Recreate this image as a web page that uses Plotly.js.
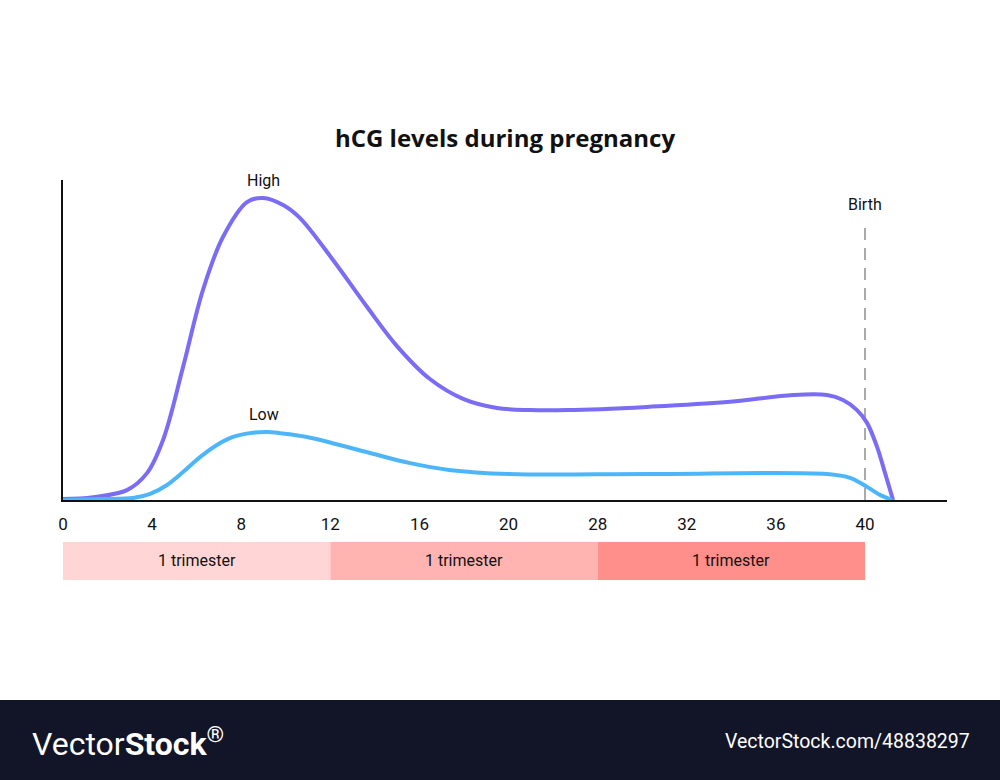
<!DOCTYPE html>
<html>
<head>
<meta charset="utf-8">
<script src="https://cdn.plot.ly/plotly-3.0.1.min.js"></script>
<style>html,body{margin:0;padding:0;background:#fff;}#chart{width:1000px;height:780px;}</style>
</head>
<body>
<div id="chart"></div>
<script>
// Axis tick labels (weeks) — evenly spaced on the axis
const tickWeeks = [0, 4, 8, 12, 16, 20, 28, 32, 36, 40];
const tickLabels = ['0', '4', '8', '12', '16', '20', '28', '32', '36', '40'];

// High hCG curve (week, level)
const highWeeks = [0, 1.35, 2.87, 3.77, 4.49, 5.39, 6.28, 7.18, 8.26, 8.98, 9.88, 10.64, 12.12, 13.65, 14.99, 16.47, 17.96, 19.48, 21.93, 25.34, 30.22, 33.81, 36.77, 38.29, 39.01, 39.64, 40.09, 40.54, 40.90, 41.26];
const highLevels = [0.3, 0.9, 3.1, 8.4, 18.75, 41.6, 65.6, 82.2, 93.1, 94.4, 92.2, 88.1, 75, 60.3, 48.1, 37.8, 31.6, 28.75, 28.1, 28.1, 29.1, 30.6, 32.8, 32.8, 31.25, 28.1, 24.1, 16.6, 8.4, 0];

// Low hCG curve (week, level)
const lowWeeks = [0, 1.66, 3.14, 3.91, 4.67, 5.39, 6.15, 6.91, 7.63, 8.39, 9.16, 9.74, 10.95, 13.78, 15.53, 17.33, 20.05, 30.22, 38.29, 39.33, 40.09, 40.67, 41.21];
const lowLevels = [0, 0.3, 0.6, 1.9, 4.7, 8.75, 13.4, 17.2, 19.7, 20.9, 21.25, 20.9, 19.7, 14.7, 11.6, 9.4, 8.1, 8.1, 8.1, 6.9, 4.1, 1.6, 0];

// Trimester bands (start week, end week, label, colour)
const trimesterStart = [0, 12, 28];
const trimesterEnd = [12, 28, 40];
const trimesterLabels = ['1 trimester', '1 trimester', '1 trimester'];
const trimesterColors = ['#ffd6d5', '#ffb4b1', '#ff8f8b'];

const birthWeek = 40;

// map weeks onto the evenly spaced tick axis
function weekToPos(w) {
  for (let i = 0; i < tickWeeks.length - 1; i++) {
    if (w <= tickWeeks[i + 1]) {
      return i + (w - tickWeeks[i]) / (tickWeeks[i + 1] - tickWeeks[i]);
    }
  }
  const n = tickWeeks.length - 1;
  return n + (w - tickWeeks[n]) / (tickWeeks[n] - tickWeeks[n - 1]);
}

const txtFont = {family: 'Roboto, sans-serif', size: 16, color: '#111'};

const traces = [
  {
    x: highWeeks.map(weekToPos), y: highLevels, mode: 'lines',
    line: {color: '#7a6cf5', width: 4, shape: 'spline', smoothing: 1},
    cliponaxis: false, hoverinfo: 'skip', name: 'High'
  },
  {
    x: lowWeeks.map(weekToPos), y: lowLevels, mode: 'lines',
    line: {color: '#4db6fb', width: 4, shape: 'spline', smoothing: 1},
    cliponaxis: false, hoverinfo: 'skip', name: 'Low'
  }
];

const shapes = [];
const annotations = [];

// birth line
shapes.push({type: 'line', xref: 'x', yref: 'y', x0: weekToPos(birthWeek), x1: weekToPos(birthWeek), y0: 0, y1: 87.5,
  line: {color: '#aaaaaa', width: 2, dash: '12px,8px'}, layer: 'below'});
annotations.push({x: weekToPos(birthWeek), y: 92.5, xref: 'x', yref: 'y', text: 'Birth', showarrow: false, font: txtFont});
annotations.push({x: weekToPos(9), y: 99.7, xref: 'x', yref: 'y', text: 'High', showarrow: false, font: txtFont});
annotations.push({x: weekToPos(9), y: 26.6, xref: 'x', yref: 'y', text: 'Low', showarrow: false, font: txtFont});

// trimester bands
for (let i = 0; i < trimesterStart.length; i++) {
  shapes.push({type: 'rect', xref: 'x', yref: 'paper', x0: weekToPos(trimesterStart[i]), x1: weekToPos(trimesterEnd[i]),
    y0: -0.25, y1: -0.131, fillcolor: trimesterColors[i], line: {width: 0}});
  annotations.push({x: (weekToPos(trimesterStart[i]) + weekToPos(trimesterEnd[i])) / 2, y: -0.19, xref: 'x', yref: 'paper',
    text: trimesterLabels[i], showarrow: false, font: txtFont, yanchor: 'middle'});
}

// footer band
shapes.push({type: 'rect', xref: 'paper', yref: 'paper', x0: -0.08, x1: 1.07, y0: -0.88, y1: -0.625,
  fillcolor: '#121427', line: {width: 0}});

const layout = {
  width: 1000, height: 780,
  margin: {l: 63, r: 53, t: 180, b: 280},
  paper_bgcolor: '#ffffff', plot_bgcolor: '#ffffff',
  showlegend: false,
  title: {text: '<b>hCG levels during pregnancy</b>', x: 0.505, xanchor: 'center', y: 0.822, yanchor: 'middle',
    font: {family: '"Open Sans", sans-serif', size: 24, color: '#111'}},
  xaxis: {
    range: [0, 9.92], tickvals: tickWeeks.map(weekToPos), ticktext: tickLabels,
    showgrid: false, zeroline: false, showline: true, linecolor: '#111', linewidth: 2,
    ticks: '', ticklen: 0, ticklabelstandoff: 8, tickfont: {family: 'Roboto, sans-serif', size: 17, color: '#111'}, fixedrange: true
  },
  yaxis: {
    range: [0, 100], showgrid: false, zeroline: false, showline: true, linecolor: '#111', linewidth: 2,
    showticklabels: false, ticks: '', fixedrange: true
  },
  shapes: shapes,
  annotations: annotations.concat([
    {xref: 'paper', yref: 'paper', x: -0.037, y: -0.755, xanchor: 'left', yanchor: 'middle', showarrow: false,
      text: 'Vector<b>Stock</b><sup>®</sup>', font: {family: 'Roboto, sans-serif', size: 32, color: '#ffffff'}},
    {xref: 'paper', yref: 'paper', x: 1.028, y: -0.755, xanchor: 'right', yanchor: 'middle', showarrow: false,
      text: 'VectorStock.com/48838297', font: {family: 'Roboto, sans-serif', size: 19.5, color: '#ffffff'}}
  ])
};

Plotly.newPlot('chart', traces, layout, {displayModeBar: false, staticPlot: true});
</script>
</body>
</html>
